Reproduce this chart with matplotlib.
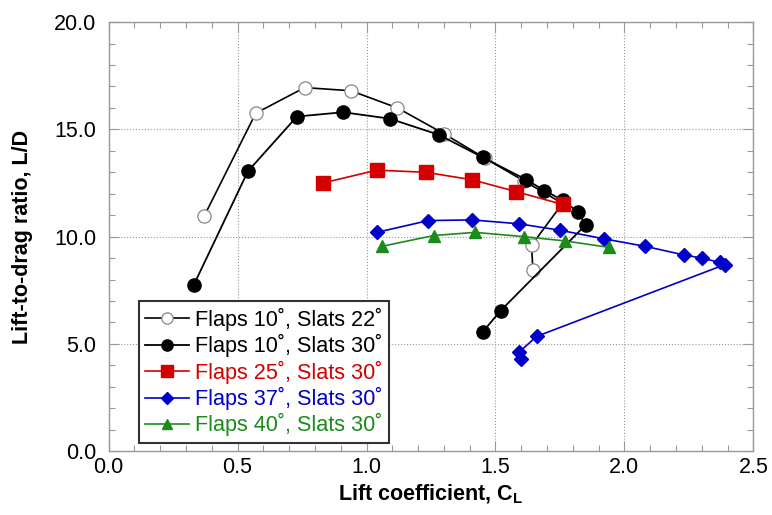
import matplotlib
matplotlib.use("Agg")
import matplotlib.pyplot as plt
from matplotlib.ticker import MultipleLocator, FormatStrFormatter

plt.rcParams['font.family'] = ['Liberation Sans', 'DejaVu Sans']
plt.rcParams['mathtext.fontset'] = 'custom'
plt.rcParams['mathtext.rm'] = 'Liberation Sans'
plt.rcParams['mathtext.bf'] = 'Liberation Sans:bold'

deg = "\u02da"
labels = [f"Flaps 10{deg}, Slats 22{deg}",
          f"Flaps 10{deg}, Slats 30{deg}",
          f"Flaps 25{deg}, Slats 30{deg}",
          f"Flaps 37{deg}, Slats 30{deg}",
          f"Flaps 40{deg}, Slats 30{deg}"]

# Flaps 10, Slats 22
cl_f10_s22 = [0.37, 0.57, 0.76, 0.94, 1.12, 1.30, 1.46, 1.61, 1.76, 1.64, 1.645]
ld_f10_s22 = [10.95, 15.75, 16.95, 16.8, 16.0, 14.8, 13.65, 12.6, 11.55, 9.6, 8.45]

# Flaps 10, Slats 30
cl_f10_s30 = [0.33, 0.54, 0.73, 0.91, 1.09, 1.28, 1.45, 1.62, 1.69, 1.76, 1.82, 1.85, 1.52, 1.45]
ld_f10_s30 = [7.75, 13.05, 15.6, 15.8, 15.5, 14.75, 13.7, 12.65, 12.15, 11.7, 11.15, 10.55, 6.55, 5.55]

# Flaps 25, Slats 30
cl_f25_s30 = [0.83, 1.04, 1.23, 1.41, 1.58, 1.76]
ld_f25_s30 = [12.5, 13.1, 13.0, 12.65, 12.1, 11.5]

# Flaps 37, Slats 30
cl_f37_s30 = [1.04, 1.24, 1.41, 1.59, 1.75, 1.92, 2.08, 2.23, 2.30, 2.37, 2.39, 1.66, 1.59, 1.60]
ld_f37_s30 = [10.2, 10.75, 10.78, 10.6, 10.3, 9.9, 9.55, 9.15, 9.0, 8.8, 8.7, 5.35, 4.6, 4.3]

# Flaps 40, Slats 30
cl_f40_s30 = [1.06, 1.26, 1.42, 1.61, 1.77, 1.94]
ld_f40_s30 = [9.55, 10.05, 10.2, 10.0, 9.8, 9.5]

red = '#d40000'
blue = '#0000c8'
green = '#1a8c1a'

fig = plt.figure(figsize=(7.72, 5.15), dpi=100)
ax = fig.add_axes([0.1408, 0.124, 0.835, 0.833])

ax.plot(cl_f10_s22, ld_f10_s22, '-', color='black', lw=1.2, marker='o', ms=9.5,
        mfc='white', mec='#888888', mew=0.9, label=labels[0], zorder=3)
ax.plot(cl_f10_s30, ld_f10_s30, '-', color='black', lw=1.3, marker='o', ms=9.5,
        mfc='black', mec='black', label=labels[1], zorder=4)
ax.plot(cl_f25_s30, ld_f25_s30, '-', color=red, lw=1.2, marker='s', ms=9.5,
        mfc=red, mec=red, label=labels[2], zorder=5)
ax.plot(cl_f37_s30, ld_f37_s30, '-', color=blue, lw=1.2, marker='D', ms=7.5,
        mfc=blue, mec=blue, label=labels[3], zorder=6)
ax.plot(cl_f40_s30, ld_f40_s30, '-', color=green, lw=1.2, marker='^', ms=9,
        mfc=green, mec=green, label=labels[4], zorder=7)

ax.set_xlim(0, 2.5)
ax.set_ylim(0, 20)
ax.xaxis.set_major_locator(MultipleLocator(0.5))
ax.xaxis.set_minor_locator(MultipleLocator(0.1))
ax.yaxis.set_major_locator(MultipleLocator(5))
ax.yaxis.set_minor_locator(MultipleLocator(1))
ax.xaxis.set_major_formatter(FormatStrFormatter('%.1f'))
ax.yaxis.set_major_formatter(FormatStrFormatter('%.1f'))

ax.tick_params(which='both', direction='in', top=True, right=True, color='#999999',
               labelsize=15.5)
ax.tick_params(which='major', length=7, width=0.8)
ax.tick_params(which='minor', length=4, width=0.8)
ax.tick_params(axis='x', which='major', pad=4)
ax.tick_params(axis='y', which='major', pad=9)
for s in ax.spines.values():
    s.set_color('#999999')
    s.set_linewidth(1.0)

ax.grid(True, which='major', linestyle=':', color='#999999', linewidth=0.8)
ax.set_axisbelow(True)

ax.set_xlabel(r'Lift coefficient, C$_\mathbf{L}$', fontsize=15.5, fontweight='bold', labelpad=4)
ax.set_ylabel('Lift-to-drag ratio, L/D', fontsize=15.5, fontweight='bold', labelpad=15)

leg = ax.legend(loc='lower left', bbox_to_anchor=(0.047, 0.019), fontsize=15.6,
                frameon=True, fancybox=False, edgecolor='#333333', framealpha=1,
                handlelength=2.0, handletextpad=0.3, borderpad=0.3, labelspacing=0.15,
                borderaxespad=0)
leg.get_frame().set_linewidth(1.5)
for txt, c in zip(leg.get_texts(), ['black', 'black', red, blue, green]):
    txt.set_color(c)
for h in leg.legend_handles:
    h.set_markersize(h.get_markersize() * 0.85)

fig.savefig('out.png', dpi=100)
